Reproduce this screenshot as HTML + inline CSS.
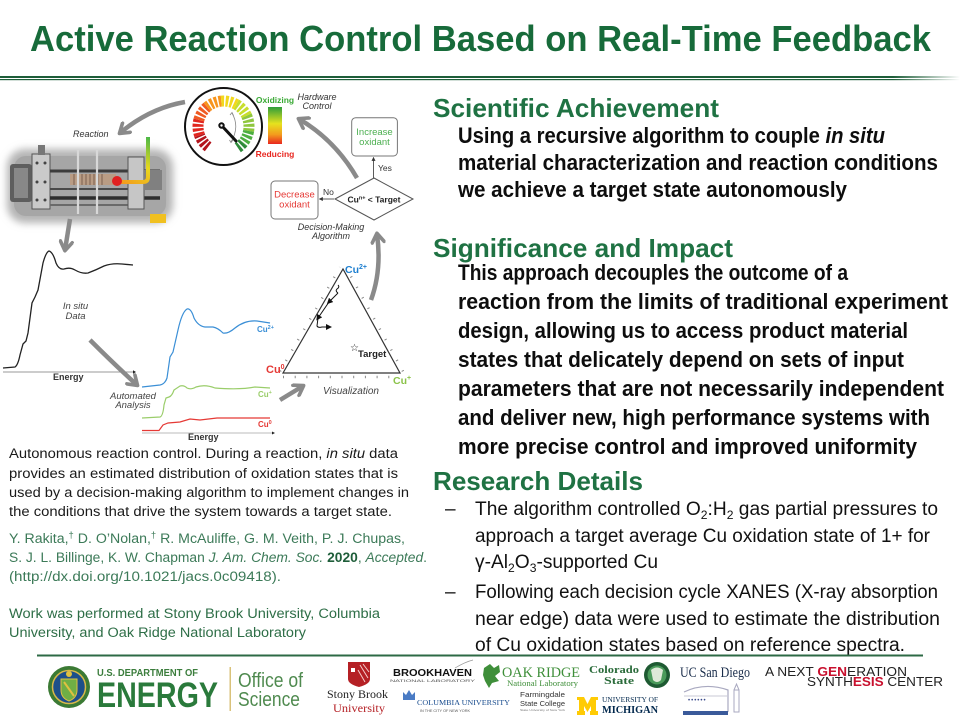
<!DOCTYPE html>
<html><head><meta charset="utf-8"><title>Active Reaction Control Based on Real-Time Feedback</title>
<style>
html,body{margin:0;padding:0;background:#fff;}
svg{display:block;}
</style></head>
<body>
<svg width="960" height="720" viewBox="0 0 960 720" xmlns="http://www.w3.org/2000/svg" font-family="'Liberation Sans', sans-serif">
<defs>
  <linearGradient id="hdr" x1="0" y1="0" x2="1" y2="0">
    <stop offset="0" stop-color="#1e5e39"/><stop offset="0.93" stop-color="#1e5e39"/><stop offset="1" stop-color="#ffffff"/>
  </linearGradient>
  <linearGradient id="cbar" x1="0" y1="0" x2="0" y2="1">
    <stop offset="0" stop-color="#2f9e3a"/><stop offset="0.45" stop-color="#e6e21e"/><stop offset="0.75" stop-color="#f39a1d"/><stop offset="1" stop-color="#e8261f"/>
  </linearGradient>
  <linearGradient id="tube" gradientUnits="userSpaceOnUse" x1="148" y1="137" x2="120" y2="182">
    <stop offset="0" stop-color="#4cb848"/><stop offset="0.5" stop-color="#e8d81e"/><stop offset="1" stop-color="#f39a1d"/>
  </linearGradient>
  <filter id="soft" x="-20%" y="-30%" width="140%" height="160%"><feGaussianBlur stdDeviation="4"/></filter>
  <marker id="ch" viewBox="0 0 10 10" refX="7" refY="5" markerWidth="15" markerHeight="15" markerUnits="userSpaceOnUse" orient="auto">
    <path d="M1.5,1 L7.5,5 L1.5,9" fill="none" stroke="#8a8a8a" stroke-width="2.4" stroke-linecap="round" stroke-linejoin="round"/>
  </marker>
  <marker id="sm" viewBox="0 0 6 6" refX="5" refY="3" markerWidth="4" markerHeight="4" markerUnits="userSpaceOnUse" orient="auto">
    <path d="M0,0 L6,3 L0,6 z" fill="#333"/>
  </marker>
  <marker id="tm" viewBox="0 0 6 6" refX="3" refY="3" markerWidth="6" markerHeight="6" markerUnits="userSpaceOnUse" orient="auto">
    <path d="M0,0 L6,3 L0,6 z" fill="#111"/>
  </marker>
</defs>

<rect width="960" height="720" fill="#fff"/>

<!-- Title -->
<text x="30" y="51" font-size="36" font-weight="bold" fill="#176b3a" textLength="901" lengthAdjust="spacingAndGlyphs">Active Reaction Control Based on Real-Time Feedback</text>
<rect x="0" y="76" width="960" height="2" fill="url(#hdr)"/>
<rect x="0" y="79" width="960" height="1.2" fill="url(#hdr)"/>

<!-- ============ FIGURE ============ -->
<!-- Gauge -->
<circle cx="223.5" cy="126.5" r="38.5" fill="#fff" stroke="#111" stroke-width="2"/>
<g fill="none" stroke-width="11" stroke-dasharray="2.8 1.5">
  <path d="M208.15,146.86 A25.5,25.5 0 0 1 199.54,135.22" stroke="#b3141c"/>
  <path d="M199.54,135.22 A25.5,25.5 0 0 1 198.87,119.90" stroke="#e0261f"/>
  <path d="M198.87,119.90 A25.5,25.5 0 0 1 207.11,106.97" stroke="#ef5a22"/>
  <path d="M207.11,106.97 A25.5,25.5 0 0 1 221.28,101.10" stroke="#f7941d"/>
  <path d="M221.28,101.10 A25.5,25.5 0 0 1 236.25,104.42" stroke="#f2d81e"/>
  <path d="M236.25,104.42 A25.5,25.5 0 0 1 246.61,115.72" stroke="#c8de2c"/>
  <path d="M246.61,115.72 A25.5,25.5 0 0 1 248.61,130.93" stroke="#8fc73e"/>
  <path d="M248.61,130.93 A25.5,25.5 0 0 1 243.03,142.89" stroke="#4cae3f"/>
  <path d="M243.03,142.89 A25.5,25.5 0 0 1 237.39,147.89" stroke="#2e8b3a"/>
</g>
<path d="M232,113 Q240,127 231,142" fill="none" stroke="#888" stroke-width="0.8"/>
<path d="M230,115 L232,112.5 L233.5,115.5" fill="none" stroke="#888" stroke-width="0.8"/>
<path d="M229.5,140 L231,142.5 L233,140" fill="none" stroke="#888" stroke-width="0.8"/>
<line x1="222" y1="126" x2="236" y2="141" stroke="#111" stroke-width="3" stroke-linecap="round"/>
<circle cx="221.5" cy="125.5" r="3.2" fill="#111"/>
<circle cx="221.5" cy="125.5" r="1.2" fill="#fff"/>

<!-- Color bar -->
<rect x="268" y="107" width="14" height="37" fill="url(#cbar)"/>
<text x="275" y="103" font-size="8.5" font-weight="bold" fill="#3aa935" text-anchor="middle">Oxidizing</text>
<text x="275" y="157" font-size="8.5" font-weight="bold" fill="#e8261f" text-anchor="middle">Reducing</text>
<text x="317" y="100" font-size="9" font-style="italic" fill="#333" text-anchor="middle">Hardware</text>
<text x="317" y="109" font-size="9" font-style="italic" fill="#333" text-anchor="middle">Control</text>

<!-- Arrow gauge -> Reaction -->
<path d="M185,102 Q150,108 120,133" fill="none" stroke="#8a8a8a" stroke-width="4.5" marker-end="url(#ch)"/>
<text x="73" y="137" font-size="9" font-style="italic" fill="#333">Reaction</text>

<!-- Reactor photo -->
<rect x="7" y="149" width="166" height="74" rx="18" fill="#b4b4b4" filter="url(#soft)"/>
<rect x="14" y="156" width="152" height="60" rx="12" fill="#a6a6a6"/>
<rect x="10" y="164" width="22" height="38" rx="3" fill="#5e5e5e"/>
<rect x="14" y="168" width="14" height="30" fill="#888"/>
<rect x="32" y="154" width="18" height="55" fill="#cacaca" stroke="#555" stroke-width="1"/>
<circle cx="37" cy="163" r="1.5" fill="#444"/><circle cx="45" cy="163" r="1.5" fill="#444"/>
<circle cx="37" cy="182" r="1.5" fill="#444"/><circle cx="45" cy="182" r="1.5" fill="#444"/>
<circle cx="37" cy="200" r="1.5" fill="#444"/><circle cx="45" cy="200" r="1.5" fill="#444"/>
<rect x="38" y="145" width="7" height="10" fill="#777"/>
<line x1="50" y1="171" x2="160" y2="171" stroke="#3c3c3c" stroke-width="3"/>
<line x1="50" y1="189" x2="160" y2="189" stroke="#4a4a4a" stroke-width="2"/>
<line x1="50" y1="198" x2="160" y2="198" stroke="#2e2e2e" stroke-width="3.5"/>
<line x1="50" y1="205" x2="135" y2="205" stroke="#6a6a6a" stroke-width="2"/>
<rect x="70" y="174" width="46" height="11" fill="#b99c84"/>
<g stroke="#7a6050" stroke-width="1"><line x1="74" y1="174" x2="74" y2="185"/><line x1="78" y1="174" x2="78" y2="185"/><line x1="82" y1="174" x2="82" y2="185"/><line x1="86" y1="174" x2="86" y2="185"/><line x1="90" y1="174" x2="90" y2="185"/><line x1="94" y1="174" x2="94" y2="185"/><line x1="98" y1="174" x2="98" y2="185"/><line x1="102" y1="174" x2="102" y2="185"/></g>
<line x1="78" y1="150" x2="78" y2="214" stroke="#d8d8d8" stroke-width="2.2"/>
<line x1="97" y1="150" x2="97" y2="214" stroke="#d8d8d8" stroke-width="2.2"/>
<rect x="128" y="157" width="16" height="52" fill="#c6c6c6" stroke="#555" stroke-width="1"/>
<rect x="144" y="170" width="18" height="20" fill="#808080"/>
<rect x="150" y="214" width="16" height="9" fill="#f0c020"/>
<path d="M148,137 L148,177 Q148,182 143,182 L121,182" fill="none" stroke="url(#tube)" stroke-width="4"/>
<circle cx="117" cy="181" r="5" fill="#e02020"/>

<!-- Arrow photo -> data -->
<path d="M70,219 L65,250" fill="none" stroke="#8a8a8a" stroke-width="4.5" marker-end="url(#ch)"/>

<!-- In situ spectrum -->
<path d="M3,368 L15,367 Q18,365 20,355 L23,344 L26,341 L28,333 L32,303 L35,297 L38,290 L43,263 Q46,252 49,251 Q53,252 56,263 Q59,270 64,269 Q70,267 75,270 Q82,274 88,273 Q96,270 104,266 Q112,263 122,264 L133,265" fill="none" stroke="#222" stroke-width="1.3"/>
<line x1="3" y1="372" x2="133" y2="372" stroke="#999" stroke-width="1"/>
<path d="M133,370.3 L136,372 L133,373.7 z" fill="#222"/>
<text x="53" y="380" font-size="9" font-weight="bold" fill="#333">Energy</text>
<text x="75.5" y="309" font-size="9.5" font-style="italic" fill="#444" text-anchor="middle">In situ</text>
<text x="75.5" y="319" font-size="9.5" font-style="italic" fill="#444" text-anchor="middle">Data</text>

<!-- Arrow data -> analysis -->
<path d="M90,340 Q114,364 137,385" fill="none" stroke="#8a8a8a" stroke-width="4.5" marker-end="url(#ch)"/>
<text x="133" y="399" font-size="9.5" font-style="italic" fill="#444" text-anchor="middle">Automated</text>
<text x="133" y="408" font-size="9.5" font-style="italic" fill="#444" text-anchor="middle">Analysis</text>

<!-- Component spectra -->
<path d="M142,387 L160,385 Q165,384 167,378 L170,357 L173,352 L178,330 Q182,312 187,309 Q191,308 194,318 Q198,326 205,327 L213,327 Q218,328 223,333 Q228,334 235,328 Q245,320 257,321 L270,323" fill="none" stroke="#3b8fd6" stroke-width="1.2"/>
<path d="M142,418 L160,417 Q163,416 164,405 L166,398 L169,397 Q172,396 174,390 L180,386 Q184,385 187,388 Q191,390 196,387 Q205,384 215,388 Q240,390 255,387 L270,388" fill="none" stroke="#9acd6a" stroke-width="1.2"/>
<path d="M142,430.5 L159,430.5 L163,425 L168,423 L180,422 L190,419 L200,420 L217,418 L270,418" fill="none" stroke="#e53935" stroke-width="1.2"/>
<line x1="142" y1="433" x2="272" y2="433" stroke="#bbb" stroke-width="1"/>
<path d="M272,431.5 L275,433 L272,434.5 z" fill="#222"/>
<text x="188" y="440" font-size="9" font-weight="bold" fill="#333">Energy</text>
<text x="257" y="332" font-size="8" font-weight="bold" fill="#3b8fd6">Cu<tspan font-size="5.5" dy="-3">2+</tspan></text>
<text x="258" y="397" font-size="8" font-weight="bold" fill="#9acd6a">Cu<tspan font-size="5.5" dy="-3">+</tspan></text>
<text x="258" y="427" font-size="8" font-weight="bold" fill="#e53935">Cu<tspan font-size="5.5" dy="-3">0</tspan></text>

<!-- Arrow analysis -> visualization -->
<path d="M280,400 L303,386" fill="none" stroke="#8a8a8a" stroke-width="4.5" marker-end="url(#ch)"/>

<!-- Ternary triangle -->
<path d="M283,373 L343,269 L400,373 Z" fill="none" stroke="#333" stroke-width="1.2"/>
<g stroke="#888" stroke-width="2.5" fill="none">
  <line x1="280" y1="371.3" x2="340" y2="267.3" stroke-dasharray="1 11"/>
  <line x1="403" y1="371.3" x2="346" y2="267.3" stroke-dasharray="1 10.9"/>
  <line x1="283" y1="377" x2="400" y2="377" stroke-dasharray="1 10.7"/>
</g>
<path d="M338,285 q2,2 -1,4 q-2,2 1,4" fill="none" stroke="#111" stroke-width="1"/>
<path d="M338,293 L329,302" fill="none" stroke="#111" stroke-width="1" marker-end="url(#tm)"/>
<path d="M329,302 L318,318" fill="none" stroke="#111" stroke-width="1" marker-end="url(#tm)"/>
<path d="M318,318 L317,326 Q318,328 322,327 L329,327" fill="none" stroke="#111" stroke-width="1" marker-end="url(#tm)"/>
<text x="345" y="273" font-size="10.5" font-weight="bold" fill="#1e7fd0">Cu<tspan font-size="7" dy="-4">2+</tspan></text>
<text x="266" y="373" font-size="11" font-weight="bold" fill="#e53935">Cu<tspan font-size="7" dy="-4">0</tspan></text>
<text x="393" y="384" font-size="10.5" font-weight="bold" fill="#8bc34a">Cu<tspan font-size="7" dy="-4">+</tspan></text>
<text x="350" y="351" font-size="10" fill="#222">☆</text>
<text x="358" y="357" font-size="9.5" font-weight="bold" fill="#222">Target</text>
<text x="323" y="394" font-size="10" font-style="italic" fill="#444">Visualization</text>

<!-- Arrow viz -> decision -->
<path d="M371,300 Q382,270 377,234" fill="none" stroke="#8a8a8a" stroke-width="4.5" marker-end="url(#ch)"/>

<!-- Decision flowchart -->
<rect x="351.7" y="117.7" width="45.7" height="38.3" rx="4" fill="#fff" stroke="#777" stroke-width="1"/>
<text x="374.5" y="135" font-size="9.5" fill="#4caf50" text-anchor="middle">Increase</text>
<text x="374.5" y="145" font-size="9.5" fill="#4caf50" text-anchor="middle">oxidant</text>
<line x1="373.5" y1="178" x2="373.5" y2="157.5" stroke="#333" stroke-width="0.8" marker-end="url(#sm)"/>
<text x="378" y="171" font-size="8.5" fill="#333">Yes</text>
<path d="M335,199 L374,178 L413,199 L374,220 Z" fill="#fff" stroke="#555" stroke-width="1"/>
<text x="374" y="202.5" font-size="8.5" font-weight="bold" fill="#222" text-anchor="middle">Cu<tspan font-size="5.5" dy="-3">n+</tspan><tspan dy="3"> &lt; Target</tspan></text>
<rect x="271" y="181" width="47" height="38" rx="4" fill="#fff" stroke="#777" stroke-width="1"/>
<text x="294.5" y="197.5" font-size="9.5" fill="#e53935" text-anchor="middle">Decrease</text>
<text x="294.5" y="207.5" font-size="9.5" fill="#e53935" text-anchor="middle">oxidant</text>
<line x1="334" y1="199" x2="319.5" y2="199" stroke="#333" stroke-width="0.8" marker-end="url(#sm)"/>
<text x="323" y="195" font-size="8.5" fill="#333">No</text>
<text x="331" y="230" font-size="9" font-style="italic" fill="#333" text-anchor="middle">Decision-Making</text>
<text x="331" y="239" font-size="9" font-style="italic" fill="#333" text-anchor="middle">Algorithm</text>

<!-- Arrow decision -> hardware -->
<path d="M357,178 Q335,140 299,119" fill="none" stroke="#8a8a8a" stroke-width="4.5" marker-end="url(#ch)"/>

<!-- ============ LEFT CAPTION ============ -->
<g font-size="13.5" fill="#1a1a1a">
<text x="9" y="458" textLength="389" lengthAdjust="spacingAndGlyphs">Autonomous reaction control. During a reaction, <tspan font-style="italic">in situ</tspan> data</text>
<text x="9" y="478" textLength="389" lengthAdjust="spacingAndGlyphs">provides an estimated distribution of oxidation states that is</text>
<text x="9" y="497" textLength="400" lengthAdjust="spacingAndGlyphs">used by a decision-making algorithm to implement changes in</text>
<text x="9" y="516" textLength="383" lengthAdjust="spacingAndGlyphs">the conditions that drive the system towards a target state.</text>
</g>
<g font-size="13.5" fill="#3c7a58">
<text x="9" y="543" textLength="396" lengthAdjust="spacingAndGlyphs">Y. Rakita,<tspan font-size="9" dy="-5">†</tspan><tspan dy="5"> D. O’Nolan,</tspan><tspan font-size="9" dy="-5">†</tspan><tspan dy="5"> R. McAuliffe, G. M. Veith, P. J. Chupas,</tspan></text>
<text x="9" y="562" textLength="418" lengthAdjust="spacingAndGlyphs">S. J. L. Billinge, K. W. Chapman <tspan font-style="italic">J. Am. Chem. Soc.</tspan> <tspan font-weight="bold" fill="#1f5e3a">2020</tspan>, <tspan font-style="italic">Accepted</tspan>.</text>
<text x="9" y="581" textLength="272" lengthAdjust="spacingAndGlyphs">(http://dx.doi.org/10.1021/jacs.0c09418).</text>
</g>
<g font-size="13.5" fill="#2e6e47">
<text x="9" y="618" textLength="371" lengthAdjust="spacingAndGlyphs">Work was performed at Stony Brook University, Columbia</text>
<text x="9" y="637" textLength="297" lengthAdjust="spacingAndGlyphs">University, and Oak Ridge National Laboratory</text>
</g>

<!-- ============ RIGHT TEXT ============ -->
<g font-size="26" font-weight="bold" fill="#1f7243">
<text x="433" y="117" textLength="286" lengthAdjust="spacingAndGlyphs">Scientific Achievement</text>
<text x="433" y="257" textLength="300" lengthAdjust="spacingAndGlyphs">Significance and Impact</text>
<text x="433" y="490" textLength="210" lengthAdjust="spacingAndGlyphs">Research Details</text>
</g>
<g font-size="22" font-weight="bold" fill="#0d0d0d">
<text x="458" y="143" textLength="427" lengthAdjust="spacingAndGlyphs">Using a recursive algorithm to couple <tspan font-style="italic">in situ</tspan></text>
<text x="458" y="170" textLength="480" lengthAdjust="spacingAndGlyphs">material characterization and reaction conditions</text>
<text x="458" y="197" textLength="389" lengthAdjust="spacingAndGlyphs">we achieve a target state autonomously</text>
<text x="458" y="280" textLength="390" lengthAdjust="spacingAndGlyphs">This approach decouples the outcome of a</text>
<text x="458" y="309" textLength="490" lengthAdjust="spacingAndGlyphs">reaction from the limits of traditional experiment</text>
<text x="458" y="338" textLength="450" lengthAdjust="spacingAndGlyphs">design, allowing us to access product material</text>
<text x="458" y="367" textLength="446" lengthAdjust="spacingAndGlyphs">states that delicately depend on sets of input</text>
<text x="458" y="396" textLength="486" lengthAdjust="spacingAndGlyphs">parameters that are not necessarily independent</text>
<text x="458" y="425" textLength="472" lengthAdjust="spacingAndGlyphs">and deliver new, high performance systems with</text>
<text x="458" y="454" textLength="459" lengthAdjust="spacingAndGlyphs">more precise control and improved uniformity</text>
</g>
<g font-size="19" fill="#111">
<text x="445" y="515">–</text>
<text x="475" y="515" textLength="463" lengthAdjust="spacingAndGlyphs">The algorithm controlled O<tspan font-size="12" dy="4">2</tspan><tspan dy="-4">:H</tspan><tspan font-size="12" dy="4">2</tspan><tspan dy="-4"> gas partial pressures to</tspan></text>
<text x="475" y="542" textLength="455" lengthAdjust="spacingAndGlyphs">approach a target average Cu oxidation state of 1+ for</text>
<text x="475" y="568" textLength="183" lengthAdjust="spacingAndGlyphs">γ-Al<tspan font-size="12" dy="4">2</tspan><tspan dy="-4">O</tspan><tspan font-size="12" dy="4">3</tspan><tspan dy="-4">-supported Cu</tspan></text>
<text x="445" y="598">–</text>
<text x="475" y="598" textLength="463" lengthAdjust="spacingAndGlyphs">Following each decision cycle XANES (X-ray absorption</text>
<text x="475" y="625" textLength="465" lengthAdjust="spacingAndGlyphs">near edge) data were used to estimate the distribution</text>
<text x="475" y="651" textLength="430" lengthAdjust="spacingAndGlyphs">of Cu oxidation states based on reference spectra.</text>
</g>

<!-- ============ FOOTER ============ -->
<rect x="37" y="654.5" width="886" height="2" fill="#2d6a45"/>

<!-- DOE seal -->
<circle cx="69" cy="687" r="21" fill="#3b7a34"/>
<circle cx="69" cy="687" r="16.5" fill="#1d4f8a" stroke="#d8b84a" stroke-width="1.5"/>
<path d="M61,679 L77,679 L77,690 Q77,698 69,701 Q61,698 61,690 Z" fill="#6fae45" stroke="#e0c040" stroke-width="1"/>
<path d="M64,682 L74,696" stroke="#e0c040" stroke-width="2"/>
<circle cx="69" cy="674" r="3" fill="#e0c040"/>
<text x="97" y="676" font-size="10.5" font-weight="bold" fill="#3b7d3c" textLength="101" lengthAdjust="spacingAndGlyphs">U.S. DEPARTMENT OF</text>
<text x="97" y="707" font-size="35" font-weight="bold" fill="#2a7a3b" textLength="121" lengthAdjust="spacingAndGlyphs">ENERGY</text>
<rect x="229.5" y="667" width="1.5" height="44" fill="#d9c27a"/>
<text x="238" y="687" font-size="20" fill="#4f8a4f" textLength="65" lengthAdjust="spacingAndGlyphs">Office of</text>
<text x="238" y="706" font-size="20" fill="#4f8a4f" textLength="62" lengthAdjust="spacingAndGlyphs">Science</text>

<!-- Stony Brook -->
<path d="M348,662 L370,662 L370,679 Q370,684 359,687 Q348,684 348,679 Z" fill="#b52025"/>
<path d="M360,665 L368,678 M363,664 L369,672 M358,670 L365,682" stroke="#f4cccc" stroke-width="1"/>
<rect x="351" y="668" width="4" height="4" fill="#fff"/>
<text x="327" y="698" font-size="12" font-family="'Liberation Serif', serif" fill="#222" textLength="61" lengthAdjust="spacingAndGlyphs">Stony Brook</text>
<text x="333" y="712" font-size="12" font-family="'Liberation Serif', serif" fill="#b52025" textLength="52" lengthAdjust="spacingAndGlyphs">University</text>

<!-- Brookhaven -->
<text x="393" y="676" font-size="10.5" font-weight="bold" fill="#111" textLength="79" lengthAdjust="spacingAndGlyphs">BROOKHAVEN</text>
<text x="390" y="682" font-size="4" fill="#555" textLength="85" lengthAdjust="spacingAndGlyphs">NATIONAL LABORATORY</text>
<path d="M455,668 Q465,662 473,660" stroke="#999" stroke-width="0.7" fill="none"/>

<!-- Columbia -->
<path d="M403,700 L403,692 L406,695 L409,690 L412,695 L415,692 L415,700 Z" fill="#4a7bc4"/>
<text x="417" y="705" font-size="7.5" font-family="'Liberation Serif', serif" fill="#1a4d8f" textLength="93" lengthAdjust="spacingAndGlyphs">COLUMBIA UNIVERSITY</text>
<text x="420" y="712" font-size="3.5" fill="#555" textLength="50" lengthAdjust="spacingAndGlyphs">IN THE CITY OF NEW YORK</text>

<!-- Oak Ridge -->
<path d="M484,668 L490,664 L494,668 L499,665 L500,672 L495,676 L499,681 L492,683 L489,688 L485,681 L483,675 Z" fill="#3f8f3a"/>
<text x="502" y="677" font-size="15" font-family="'Liberation Serif', serif" fill="#3f8f3a" textLength="78" lengthAdjust="spacingAndGlyphs">OAK RIDGE</text>
<text x="507" y="686" font-size="8" font-family="'Liberation Serif', serif" fill="#3f8f3a" textLength="71" lengthAdjust="spacingAndGlyphs">National Laboratory</text>

<!-- Colorado State -->
<text x="589" y="673" font-size="11" font-weight="bold" font-family="'Liberation Serif', serif" fill="#2a6b3a" textLength="50" lengthAdjust="spacingAndGlyphs">Colorado</text>
<text x="604" y="684" font-size="11" font-weight="bold" font-family="'Liberation Serif', serif" fill="#2a6b3a" textLength="30" lengthAdjust="spacingAndGlyphs">State</text>
<circle cx="657" cy="675" r="13" fill="#1e5a32"/>
<circle cx="657" cy="675" r="9.5" fill="#4a9a5a"/>
<path d="M651,670 Q657,665 663,670 L661,680 Q657,684 653,680 Z" fill="#dfe9d8"/>

<!-- UC San Diego -->
<text x="680" y="677" font-size="15" font-family="'Liberation Serif', serif" fill="#182b49" textLength="70" lengthAdjust="spacingAndGlyphs">UC San Diego</text>

<!-- Farmingdale -->
<text x="520" y="697" font-size="7.5" fill="#333" textLength="45" lengthAdjust="spacingAndGlyphs">Farmingdale</text>
<text x="520" y="706" font-size="7.5" fill="#333" textLength="45" lengthAdjust="spacingAndGlyphs">State College</text>
<text x="520" y="711" font-size="3" fill="#777" textLength="45" lengthAdjust="spacingAndGlyphs">State University of New York</text>

<!-- Michigan -->
<path d="M577,697 L584,697 L587.5,704 L591,697 L598,697 L598,700 L596,700 L596,711 L598,711 L598,715 L590,715 L590,711 L591,711 L591,706 L587.5,712 L584,706 L584,711 L585,711 L585,715 L577,715 L577,711 L579,711 L579,700 L577,700 Z" fill="#ffcb05"/>
<text x="602" y="702" font-size="7" font-family="'Liberation Serif', serif" fill="#00274c" textLength="56" lengthAdjust="spacingAndGlyphs">UNIVERSITY OF</text>
<text x="602" y="713" font-size="10.5" font-weight="bold" font-family="'Liberation Serif', serif" fill="#00274c" textLength="56" lengthAdjust="spacingAndGlyphs">MICHIGAN</text>

<!-- Berkeley Lab -->
<path d="M684,692 Q705,682 728,690 L728,712" fill="none" stroke="#a9a9c0" stroke-width="1.2"/>
<path d="M684,696 L728,696" stroke="#c9c9d6" stroke-width="1"/>
<text x="688" y="702" font-size="6" fill="#3a4a8a" letter-spacing="1">••••••</text>
<rect x="734" y="690" width="5" height="22" fill="none" stroke="#a9a9c0" stroke-width="1"/>
<path d="M734,690 L736.5,684 L739,690" fill="none" stroke="#a9a9c0" stroke-width="1"/>
<rect x="683" y="711" width="45" height="4" fill="#3a5a9a"/>

<!-- Synthesis center -->
<text x="765" y="676" font-size="13" fill="#222" textLength="142" lengthAdjust="spacingAndGlyphs">A NEXT <tspan fill="#c8102e" font-weight="bold">GEN</tspan>ERATION</text>
<text x="807" y="686" font-size="13" fill="#222" textLength="136" lengthAdjust="spacingAndGlyphs">SYNTH<tspan fill="#c8102e" font-weight="bold">ESIS</tspan> CENTER</text>
</svg>
</body></html>
